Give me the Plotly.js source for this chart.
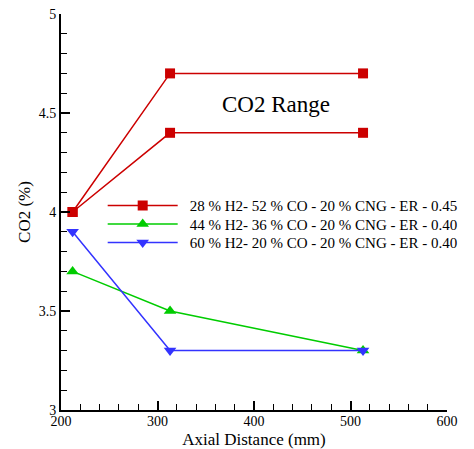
<!DOCTYPE html>
<html><head><meta charset="utf-8">
<script src="https://cdn.plot.ly/plotly-3.0.1.min.js"></script>
<style>html,body{margin:0;padding:0;background:#fff}#c{width:474px;height:449px}</style>
</head><body><div id="c"></div>
<script>
const axialDistance = [212, 313, 513];
const co2H28Upper = [4.0, 4.7, 4.7];
const co2H28Lower = [4.0, 4.4, 4.4];
const co2H44 = [3.7, 3.5, 3.3];
const co2H60 = [3.9, 3.3, 3.3];
const seriesNames = [
  "28 % H2- 52 % CO - 20 % CNG - ER - 0.45",
  "44 % H2- 36 % CO - 20 % CNG - ER - 0.40",
  "60 % H2- 20 % CO - 20 % CNG - ER - 0.40"
];
const RED = "#cc0000", GREEN = "#00cc00", BLUE = "#3333ff";
const font = "Liberation Serif, DejaVu Serif";

const traces = [
  {x: axialDistance, y: co2H28Upper, name: seriesNames[0], mode: "lines+markers",
   line: {color: RED, width: 1.5}, marker: {symbol: "square", size: 10, color: RED}, legendgroup: "r"},
  {x: axialDistance, y: co2H28Lower, name: seriesNames[0], mode: "lines+markers", showlegend: false,
   line: {color: RED, width: 1.5}, marker: {symbol: "square", size: 10, color: RED}, legendgroup: "r"},
  {x: axialDistance, y: co2H44, name: seriesNames[1], mode: "lines+markers",
   line: {color: GREEN, width: 1.5}, marker: {symbol: "triangle-up", size: 11, color: GREEN}},
  {x: axialDistance, y: co2H60, name: seriesNames[2], mode: "lines+markers",
   line: {color: BLUE, width: 1.5}, marker: {symbol: "triangle-down", size: 11, color: BLUE}}
];

const axisCommon = {
  showgrid: false, zeroline: false, showline: true, linecolor: "#000", linewidth: 2,
  ticks: "inside", ticklen: 9, tickwidth: 2, tickcolor: "#000",
  tickfont: {family: font, size: 14, color: "#000"}, mirror: false
};

const layout = {
  width: 474, height: 449,
  margin: {l: 61, r: 27, t: 14, b: 39, autoexpand: false},
  paper_bgcolor: "#fff", plot_bgcolor: "#fff",
  font: {family: font, color: "#000"},
  xaxis: Object.assign({}, axisCommon, {
    range: [200, 600], dtick: 100, tick0: 200, ticklabelstandoff: -3,
    minor: {dtick: 20, ticks: "inside", ticklen: 6, tickwidth: 1, tickcolor: "#000"},
    title: {text: "Axial Distance (mm)", font: {family: font, size: 17}, standoff: 5}
  }),
  yaxis: Object.assign({}, axisCommon, {
    range: [3, 5], dtick: 0.5, tick0: 3,
    minor: {dtick: 0.1, ticks: "inside", ticklen: 6, tickwidth: 1, tickcolor: "#000"},
    title: {text: "CO2 (%)", font: {family: font, size: 17}, standoff: 4}
  }),
  showlegend: true,
  legend: {x: 0.108, xanchor: "left", y: 0.545, yanchor: "top", bgcolor: "rgba(0,0,0,0)",
    font: {family: font, size: 15, color: "#000"}, itemwidth: 77, tracegroupgap: 0},
  annotations: [{x: 423, y: 4.545, xref: "x", yref: "y", text: "CO2 Range", showarrow: false,
    font: {family: font, size: 23, color: "#000"}}]
};

Plotly.newPlot("c", traces, layout, {displayModeBar: false, staticPlot: true}).then(function(gd){
  gd.querySelectorAll(".legend .legendlines path").forEach(function(p){ p.setAttribute("d", "M5,0h70"); });
  gd.querySelectorAll(".legend .legendpoints path").forEach(function(p){ p.setAttribute("transform", "translate(40,0)"); });
  const items = gd.querySelectorAll(".legend .traces");
  let y0 = null;
  items.forEach(function(g, i){
    const m = /translate\(([-\d.]+)[ ,]+([-\d.]+)\)/.exec(g.getAttribute("transform") || "");
    if (!m) return;
    if (y0 === null) y0 = parseFloat(m[2]) - 5;
    g.setAttribute("transform", "translate(" + m[1] + "," + (y0 + i * 18.5) + ")");
  });
});
</script></body></html>
